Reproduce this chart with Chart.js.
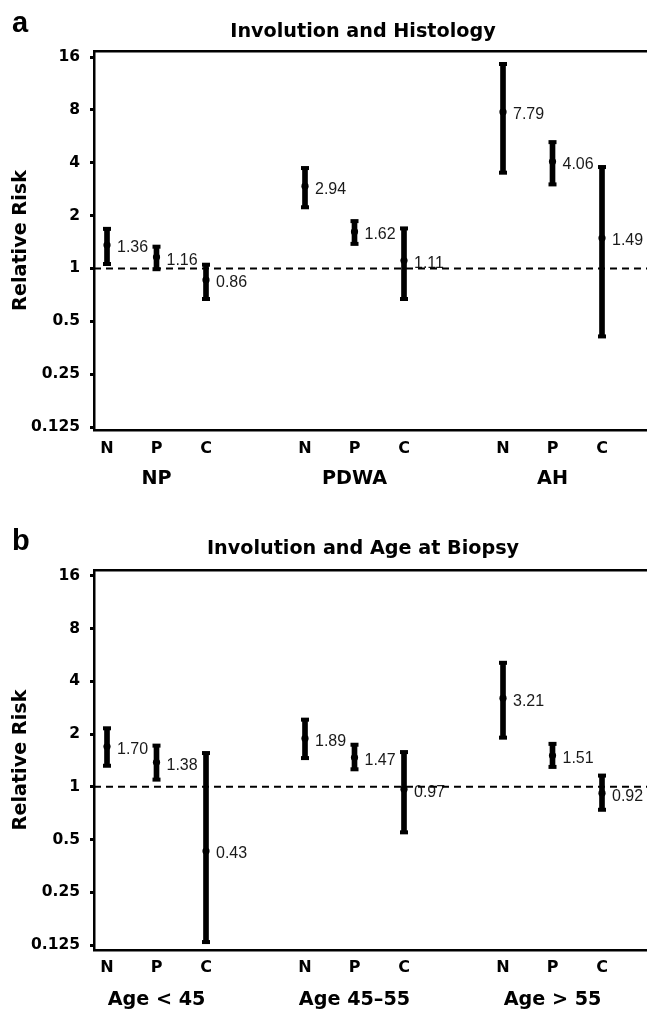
<!DOCTYPE html>
<html><head><meta charset="utf-8">
<script src="https://cdn.jsdelivr.net/npm/chart.js@4.4.0/dist/chart.umd.min.js"></script>
<style>
html,body{margin:0;padding:0;background:#fff;width:647px;height:1011px;overflow:hidden}
.panel{position:absolute;left:0;width:647px;height:492px}
canvas{display:block}
</style></head><body>
<div class="panel" style="top:0"><canvas id="ca" width="647" height="492"></canvas></div>
<div class="panel" style="top:519px"><canvas id="cb" width="647" height="492"></canvas></div>
<script>
// ---- data ----
const categories = ['N', 'P', 'C'];

const titleA = 'Involution and Histology';
const groupsA = ['NP', 'PDWA', 'AH'];
const rrA = [1.36, 1.16, 0.86, 2.94, 1.62, 1.11, 7.79, 4.06, 1.49];
const loA = [1.06, 0.99, 0.67, 2.23, 1.38, 0.67, 3.51, 3.01, 0.41];
const hiA = [1.68, 1.33, 1.05, 3.73, 1.86, 1.69, 14.6, 5.24, 3.78];

const titleB = 'Involution and Age at Biopsy';
const groupsB = ['Age < 45', 'Age 45\u201355', 'Age > 55'];
const rrB = [1.70, 1.38, 0.43, 1.89, 1.47, 0.97, 3.21, 1.51, 0.92];
const loB = [1.32, 1.10, 0.130, 1.46, 1.26, 0.55, 1.91, 1.30, 0.74];
const hiB = [2.16, 1.72, 1.56, 2.42, 1.74, 1.58, 5.11, 1.76, 1.16];

const yTickValues = [0.125, 0.25, 0.5, 1, 2, 4, 8, 16];
const yTickLabels = ['0.125', '0.25', '0.5', '1', '2', '4', '8', '16'];
const referenceRR = 1;

// ---- helpers ----
const BOLD = '"DejaVu Sans", sans-serif';
const PLAIN = '"Liberation Sans", Arial, sans-serif';
const xMin = -0.2626, xMax = 10.909;
const slotOf = i => Math.floor(i / 3) * 4 + (i % 3);
const noSidePad = s => { s.paddingLeft = 0; s.paddingRight = 0; };

function makePanel(id, p) {
  const slots = p.rr.map((v, i) => slotOf(i));
  const groupSlots = p.groups.map((g, gi) => gi * 4 + 1);

  const annot = {
    id: 'annot' + id,
    beforeDatasetsDraw(chart) {
      const ctx = chart.ctx;
      const meta = chart.getDatasetMeta(3);
      ctx.save();
      ctx.fillStyle = '#1a1a1a';
      ctx.font = '16px ' + PLAIN;
      ctx.textAlign = 'left';
      ctx.textBaseline = 'middle';
      meta.data.forEach((el, i) => {
        ctx.fillText(p.rr[i].toFixed(2), el.x + 10, el.y + 3);
      });
      ctx.restore();
    },
    afterDraw(chart) {
      const ctx = chart.ctx;
      ctx.save();
      ctx.fillStyle = '#000';
      ctx.textBaseline = 'alphabetic';
      ctx.textAlign = 'center';
      ctx.font = 'bold 19.2px ' + BOLD;
      ctx.fillText(p.title, 363, p.titleBase);
      ctx.textAlign = 'left';
      ctx.font = 'bold 29px ' + PLAIN;
      ctx.fillText(p.letter, 12, p.letterBase);
      ctx.restore();
    }
  };

  return new Chart(document.getElementById(id), {
    type: 'scatter',
    data: {
      datasets: [
        {
          label: 'RR = 1', type: 'scatter', showLine: true,
          data: [{x: xMin, y: referenceRR}, {x: xMax, y: referenceRR}],
          borderColor: '#000', borderWidth: 2, borderDash: [7, 5],
          pointRadius: 0, order: 10
        },
        {
          label: '95% CI', type: 'bar',
          data: p.rr.map((v, i) => ({x: slots[i], y: [p.lo[i], p.hi[i]]})),
          backgroundColor: '#000', borderWidth: 0, barThickness: 5, order: 3
        },
        {
          label: 'CI caps', type: 'scatter',
          data: p.lo.map((v, i) => ({x: slots[i], y: v}))
                 .concat(p.hi.map((v, i) => ({x: slots[i], y: v}))),
          pointStyle: 'line', pointRadius: 4, borderWidth: 4,
          borderColor: '#000', backgroundColor: '#000', order: 2
        },
        {
          label: 'Relative risk', type: 'scatter',
          data: p.rr.map((v, i) => ({x: slots[i], y: v})),
          pointStyle: 'circle', pointRadius: 3.6, borderWidth: 0,
          backgroundColor: '#000', order: 1
        }
      ]
    },
    options: {
      responsive: false,
      animation: false,
      events: [],
      layout: {autoPadding: false, padding: {top: 51, left: 0, right: 0, bottom: 0}},
      plugins: {legend: {display: false}, tooltip: {enabled: false}, title: {display: false}},
      scales: {
        x: {
          type: 'linear', position: 'bottom', weight: 1, min: xMin, max: xMax,
          offset: false,
          grid: {display: false, drawTicks: false, offset: false},
          border: {display: true, color: '#000', width: 2.5},
          afterBuildTicks: s => { s.ticks = slots.map(v => ({value: v})); },
          ticks: {
            callback: (v, i) => categories[i % 3],
            font: {family: BOLD, weight: 'bold', size: 16}, color: '#000',
            padding: p.catPad, autoSkip: false, maxRotation: 0
          },
          afterFit: s => { s.height = 29; noSidePad(s); }
        },
        xg: {
          type: 'linear', position: 'bottom', weight: 2, min: xMin, max: xMax,
          offset: false,
          grid: {display: false, drawTicks: false},
          border: {display: false},
          afterBuildTicks: s => { s.ticks = groupSlots.map(v => ({value: v})); },
          ticks: {
            callback: (v, i) => p.groups[i],
            font: {family: BOLD, weight: 'bold', size: 19.2}, color: '#000',
            padding: p.grpPad, autoSkip: false, maxRotation: 0
          },
          afterFit: s => { s.height = p.grpH; noSidePad(s); }
        },
        xTop: {
          type: 'linear', position: 'top', min: xMin, max: xMax,
          offset: false,
          grid: {display: false, drawTicks: false},
          border: {display: true, color: '#000', width: 2.5},
          ticks: {display: false},
          afterFit: s => { s.height = 0; noSidePad(s); }
        },
        y: {
          type: 'logarithmic', position: 'left', min: p.yMin, max: p.yMax,
          grid: {display: true, drawOnChartArea: false, drawTicks: true,
                 tickLength: 4, tickWidth: 3, tickColor: '#000'},
          border: {display: true, color: '#000', width: 2.5},
          afterBuildTicks: s => { s.ticks = yTickValues.map(v => ({value: v})); },
          ticks: {
            callback: (v, i) => yTickLabels[i],
            font: {family: BOLD, weight: 'bold', size: 15.5}, color: '#000',
            padding: 10, autoSkip: false
          },
          title: {
            display: true, text: 'Relative Risk', color: '#000',
            font: {family: BOLD, weight: 'bold', size: 19.2},
            padding: {top: 9, bottom: 0}
          },
          afterFit: s => { s.width = 94; noSidePad(s); }
        }
      }
    },
    plugins: [annot]
  });
}

makePanel('ca', {
  title: titleA, letter: 'a', titleBase: 37.3, letterBase: 32,
  groups: groupsA, rr: rrA, lo: loA, hi: hiA,
  yMin: 0.1202, yMax: 17.31, catPad: 9.4, grpPad: 8.5, grpH: 33
});
makePanel('cb', {
  title: titleB, letter: 'b', titleBase: 35.3, letterBase: 31,
  groups: groupsB, rr: rrB, lo: loB, hi: hiB,
  yMin: 0.1171, yMax: 17.31, catPad: 8.4, grpPad: 9.5, grpH: 32
});
</script>
</body></html>
